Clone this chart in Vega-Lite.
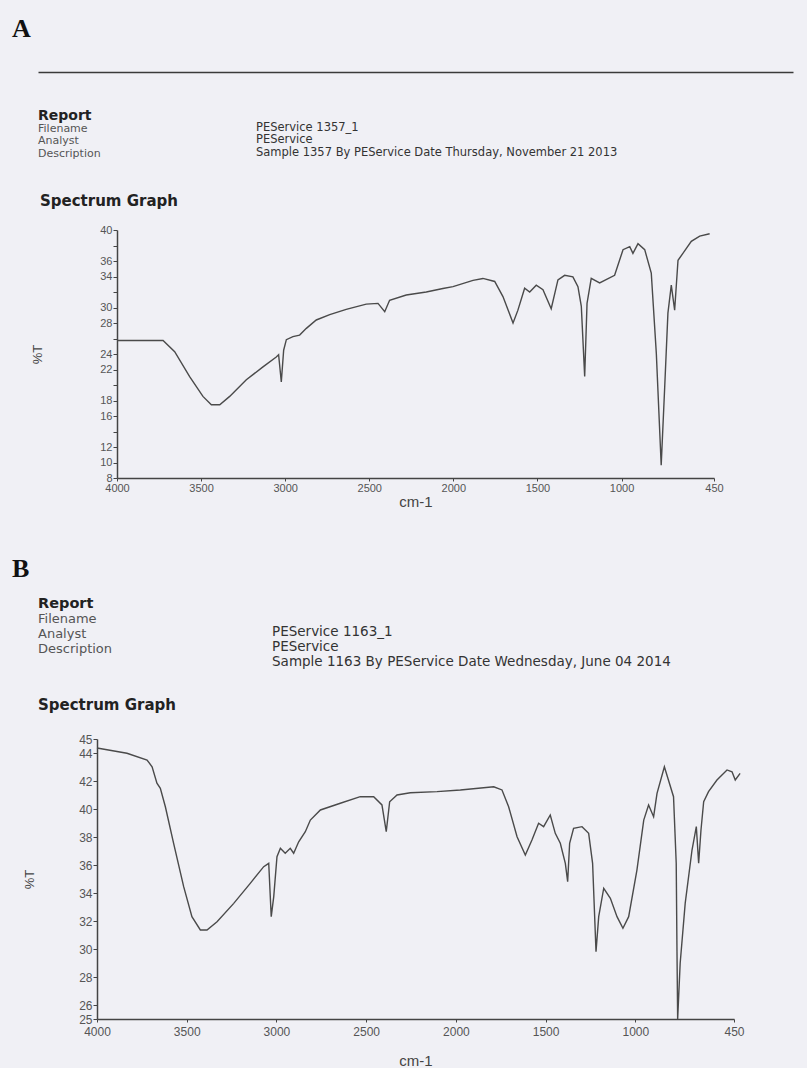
{
  "$schema": "https://vega.github.io/schema/vega-lite/v6.json",
  "background": "#f0f0f5",
  "autosize": {"type": "pad"},
  "padding": {"left": 12, "top": 16, "right": 14, "bottom": 3},
  "bounds": "flush",
  "center": true,
  "spacing": 112,
  "config": {
    "view": {"stroke": null},
    "axis": {"grid": false, "labelOverlap": false, "labelFlush": false, "labelFont": "Liberation Sans", "labelColor": "#555", "domainColor": "#444", "domainWidth": 1.5, "tickColor": "#444", "titleFont": "Liberation Sans", "titleFontWeight": "normal", "titleColor": "#444"}
  },
  "vconcat": [
    {
      "width": 755, "height": 46,
      "title": {"text": "A", "anchor": "start", "frame": "group", "font": "Liberation Serif", "fontSize": 26, "fontWeight": "bold", "color": "#111", "baseline": "alphabetic", "offset": 9, "dx": -26},
      "data": {"values": [
        {"line": "Report", "col": "label", "text": "Report"},
        {"line": "Filename", "col": "label", "text": "Filename"},
        {"line": "Analyst", "col": "label", "text": "Analyst"},
        {"line": "Description", "col": "label", "text": "Description"},
        {"line": "Filename", "col": "value", "text": "PEService 1357_1"},
        {"line": "Analyst", "col": "value", "text": "PEService"},
        {"line": "Description", "col": "value", "text": "Sample 1357 By PEService Date Thursday, November 21 2013"}
      ]},
      "encoding": {
        "x": {"field": "col", "type": "nominal", "scale": {"type": "point", "domain": ["label", "value", "end"], "padding": 0.732, "align": 0}, "axis": {"orient": "top", "domain": true, "domainColor": "#3a3a3a", "domainWidth": 1.6, "ticks": false, "labels": false, "title": null}},
        "y": {"field": "line", "type": "nominal", "scale": {"type": "point", "domain": ["Report", "Filename", "Analyst", "Description"], "range": [44, 82], "padding": 0}, "axis": null},
        "text": {"field": "text"}
      },
      "layer": [
        {"transform": [{"filter": "datum.line === 'Report'"}], "mark": {"type": "text", "align": "left", "baseline": "middle", "font": "DejaVu Sans", "fontSize": 14, "fontWeight": "bold", "fill": "#222"}},
        {"transform": [{"filter": "datum.line !== 'Report' && datum.col === 'label'"}], "mark": {"type": "text", "align": "left", "baseline": "middle", "font": "DejaVu Sans", "fontSize": 11, "fill": "#555"}},
        {"transform": [{"filter": "datum.col === 'value'"}], "mark": {"type": "text", "align": "left", "baseline": "middle", "font": "DejaVu Sans", "fontSize": 11.5, "fill": "#333", "dy": -1}}
      ]
    },
    {
      "width": 597, "height": 248,
      "title": {"text": "Spectrum Graph", "anchor": "start", "frame": "group", "font": "DejaVu Sans", "fontSize": 15, "fontWeight": "bold", "color": "#222", "baseline": "alphabetic", "offset": 3, "dx": -77},
      "data": {"values": [
        {"wn": 4000, "t": 25.75}, {"wn": 3726, "t": 25.75}, {"wn": 3657, "t": 24.29}, {"wn": 3568, "t": 21.07}, {"wn": 3489, "t": 18.53},
        {"wn": 3439, "t": 17.46}, {"wn": 3389, "t": 17.46}, {"wn": 3330, "t": 18.53}, {"wn": 3231, "t": 20.68}, {"wn": 3132, "t": 22.34},
        {"wn": 3053, "t": 23.61}, {"wn": 3039, "t": 23.9}, {"wn": 3023, "t": 20.39}, {"wn": 3009, "t": 24.49}, {"wn": 2993, "t": 25.85},
        {"wn": 2954, "t": 26.24}, {"wn": 2914, "t": 26.44}, {"wn": 2874, "t": 27.31}, {"wn": 2815, "t": 28.39}, {"wn": 2735, "t": 29.07},
        {"wn": 2637, "t": 29.75}, {"wn": 2518, "t": 30.44}, {"wn": 2448, "t": 30.53}, {"wn": 2408, "t": 29.46}, {"wn": 2379, "t": 30.93},
        {"wn": 2280, "t": 31.61}, {"wn": 2161, "t": 32.0}, {"wn": 2062, "t": 32.45}, {"wn": 2002, "t": 32.7}, {"wn": 1883, "t": 33.5},
        {"wn": 1824, "t": 33.75}, {"wn": 1754, "t": 33.36}, {"wn": 1705, "t": 31.41}, {"wn": 1645, "t": 28.0}, {"wn": 1616, "t": 29.66},
        {"wn": 1576, "t": 32.49}, {"wn": 1546, "t": 32.0}, {"wn": 1507, "t": 32.88}, {"wn": 1467, "t": 32.29}, {"wn": 1418, "t": 29.85},
        {"wn": 1378, "t": 33.56}, {"wn": 1338, "t": 34.15}, {"wn": 1289, "t": 33.95}, {"wn": 1259, "t": 32.68}, {"wn": 1239, "t": 30.14},
        {"wn": 1219, "t": 21.1}, {"wn": 1205, "t": 30.53}, {"wn": 1180, "t": 33.75}, {"wn": 1130, "t": 33.17}, {"wn": 1041, "t": 34.15},
        {"wn": 991, "t": 37.46}, {"wn": 951, "t": 37.85}, {"wn": 932, "t": 36.98}, {"wn": 902, "t": 38.24}, {"wn": 862, "t": 37.46},
        {"wn": 823, "t": 34.44}, {"wn": 793, "t": 24.09}, {"wn": 764, "t": 9.65}, {"wn": 743, "t": 19.8}, {"wn": 724, "t": 29.27},
        {"wn": 704, "t": 32.88}, {"wn": 684, "t": 29.66}, {"wn": 664, "t": 36.1}, {"wn": 635, "t": 36.98}, {"wn": 585, "t": 38.54},
        {"wn": 535, "t": 39.22}, {"wn": 476, "t": 39.51}
      ]},
      "mark": {"type": "line", "stroke": "#4a4a4a", "strokeWidth": 1.4},
      "encoding": {
        "x": {"field": "wn", "type": "quantitative", "scale": {"domain": [4000, 450], "nice": false, "zero": false},
              "axis": {"values": [4000, 3500, 3000, 2500, 2000, 1500, 1000, 450], "format": "d", "title": "cm-1", "titleFontSize": 15, "titlePadding": 1, "labelFontSize": 11, "tickSize": 3, "labelPadding": 1}},
        "y": {"field": "t", "type": "quantitative", "scale": {"domain": [8, 40], "nice": false, "zero": false},
              "axis": {"values": [8, 10, 12, 14, 16, 18, 20, 22, 24, 26, 28, 30, 32, 34, 36, 38, 40], "labelExpr": "indexof([8, 10, 12, 16, 18, 22, 24, 28, 30, 34, 36, 40], datum.value) >= 0 ? datum.label : ''", "title": "%T", "titleFontSize": 13, "titlePadding": 55, "labelFontSize": 11, "tickSize": 4, "labelPadding": 1}}
      }
    },
    {
      "width": 755, "height": 37,
      "title": {"text": "B", "anchor": "start", "frame": "group", "font": "Liberation Serif", "fontSize": 26, "fontWeight": "bold", "color": "#111", "baseline": "alphabetic", "offset": -13, "dx": -26},
      "data": {"values": [
        {"line": "Report", "col": "label", "text": "Report"},
        {"line": "Filename", "col": "label", "text": "Filename"},
        {"line": "Analyst", "col": "label", "text": "Analyst"},
        {"line": "Description", "col": "label", "text": "Description"},
        {"line": "Filename", "col": "value", "text": "PEService 1163_1"},
        {"line": "Analyst", "col": "value", "text": "PEService"},
        {"line": "Description", "col": "value", "text": "Sample 1163 By PEService Date Wednesday, June 04 2014"}
      ]},
      "encoding": {
        "x": {"field": "col", "type": "nominal", "scale": {"type": "point", "domain": ["label", "value", "end"], "padding": 0.613, "align": 0}, "axis": null},
        "y": {"field": "line", "type": "nominal", "scale": {"type": "point", "domain": ["Report", "Filename", "Analyst", "Description"], "range": [14, 59], "padding": 0}, "axis": null},
        "text": {"field": "text"}
      },
      "layer": [
        {"transform": [{"filter": "datum.line === 'Report'"}], "mark": {"type": "text", "align": "left", "baseline": "middle", "font": "DejaVu Sans", "fontSize": 14.5, "fontWeight": "bold", "fill": "#222"}},
        {"transform": [{"filter": "datum.line !== 'Report' && datum.col === 'label'"}], "mark": {"type": "text", "align": "left", "baseline": "middle", "font": "DejaVu Sans", "fontSize": 13, "fill": "#555"}},
        {"transform": [{"filter": "datum.col === 'value'"}], "mark": {"type": "text", "align": "left", "baseline": "middle", "font": "DejaVu Sans", "fontSize": 13.5, "fill": "#333", "dy": 13}}
      ]
    },
    {
      "width": 637, "height": 280,
      "title": {"text": "Spectrum Graph", "anchor": "start", "frame": "group", "font": "DejaVu Sans", "fontSize": 15, "fontWeight": "bold", "color": "#222", "baseline": "alphabetic", "offset": 8, "dx": -59},
      "data": {"values": [
        {"wn": 4000, "t": 44.36}, {"wn": 3833, "t": 43.98}, {"wn": 3721, "t": 43.5}, {"wn": 3693, "t": 43.02}, {"wn": 3666, "t": 41.84},
        {"wn": 3647, "t": 41.48}, {"wn": 3619, "t": 40.16}, {"wn": 3573, "t": 37.55}, {"wn": 3517, "t": 34.45}, {"wn": 3471, "t": 32.31},
        {"wn": 3424, "t": 31.36}, {"wn": 3387, "t": 31.36}, {"wn": 3331, "t": 31.95}, {"wn": 3238, "t": 33.26}, {"wn": 3146, "t": 34.69},
        {"wn": 3071, "t": 35.88}, {"wn": 3043, "t": 36.12}, {"wn": 3029, "t": 32.31}, {"wn": 3015, "t": 33.74}, {"wn": 2997, "t": 36.59},
        {"wn": 2978, "t": 37.19}, {"wn": 2951, "t": 36.84}, {"wn": 2923, "t": 37.19}, {"wn": 2904, "t": 36.84}, {"wn": 2876, "t": 37.66},
        {"wn": 2839, "t": 38.38}, {"wn": 2811, "t": 39.21}, {"wn": 2755, "t": 39.93}, {"wn": 2644, "t": 40.41}, {"wn": 2533, "t": 40.88},
        {"wn": 2458, "t": 40.88}, {"wn": 2412, "t": 40.29}, {"wn": 2388, "t": 38.38}, {"wn": 2369, "t": 40.52}, {"wn": 2328, "t": 41.0},
        {"wn": 2254, "t": 41.16}, {"wn": 2105, "t": 41.24}, {"wn": 1975, "t": 41.36}, {"wn": 1789, "t": 41.59}, {"wn": 1743, "t": 41.36},
        {"wn": 1706, "t": 40.16}, {"wn": 1659, "t": 38.02}, {"wn": 1613, "t": 36.71}, {"wn": 1576, "t": 37.79}, {"wn": 1539, "t": 38.98},
        {"wn": 1511, "t": 38.74}, {"wn": 1474, "t": 39.57}, {"wn": 1446, "t": 38.26}, {"wn": 1418, "t": 37.55}, {"wn": 1390, "t": 36.12},
        {"wn": 1377, "t": 34.81}, {"wn": 1366, "t": 37.55}, {"wn": 1344, "t": 38.62}, {"wn": 1297, "t": 38.74}, {"wn": 1260, "t": 38.26},
        {"wn": 1238, "t": 36.12}, {"wn": 1219, "t": 29.81}, {"wn": 1204, "t": 32.31}, {"wn": 1176, "t": 34.34}, {"wn": 1139, "t": 33.62},
        {"wn": 1102, "t": 32.31}, {"wn": 1069, "t": 31.48}, {"wn": 1037, "t": 32.31}, {"wn": 991, "t": 35.64}, {"wn": 953, "t": 39.21},
        {"wn": 926, "t": 40.29}, {"wn": 898, "t": 39.45}, {"wn": 879, "t": 41.12}, {"wn": 838, "t": 43.02}, {"wn": 787, "t": 40.88},
        {"wn": 772, "t": 36.12}, {"wn": 768, "t": 30.16}, {"wn": 764, "t": 25.0}, {"wn": 750, "t": 28.98}, {"wn": 722, "t": 33.26},
        {"wn": 684, "t": 37.07}, {"wn": 660, "t": 38.74}, {"wn": 647, "t": 36.12}, {"wn": 634, "t": 38.5}, {"wn": 619, "t": 40.52},
        {"wn": 592, "t": 41.24}, {"wn": 545, "t": 42.07}, {"wn": 489, "t": 42.79}, {"wn": 461, "t": 42.66}, {"wn": 443, "t": 42.07},
        {"wn": 416, "t": 42.55}
      ]},
      "mark": {"type": "line", "stroke": "#4a4a4a", "strokeWidth": 1.4},
      "encoding": {
        "x": {"field": "wn", "type": "quantitative", "scale": {"domain": [4000, 450], "nice": false, "zero": false},
              "axis": {"values": [4000, 3500, 3000, 2500, 2000, 1500, 1000, 450], "format": "d", "title": "cm-1", "titleFontSize": 15, "titlePadding": 16, "labelFontSize": 12, "tickSize": 3, "labelPadding": 4}},
        "y": {"field": "t", "type": "quantitative", "scale": {"domain": [25, 45], "nice": false, "zero": false},
              "axis": {"values": [25, 26, 28, 30, 32, 34, 36, 38, 40, 42, 44, 45], "title": "%T", "titleFontSize": 13, "titlePadding": 42, "labelFontSize": 12, "tickSize": 4, "labelPadding": 1}}
      }
    }
  ]
}
